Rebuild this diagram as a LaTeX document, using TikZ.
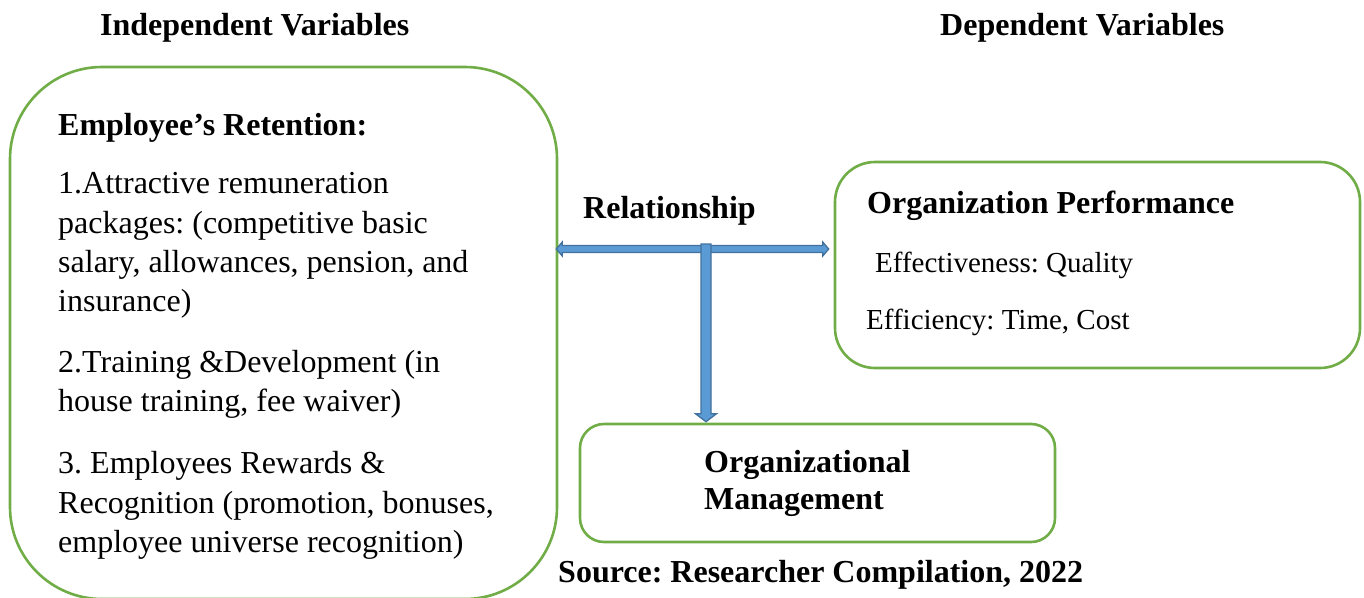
\documentclass[tikz,border=0pt]{standalone}
\usepackage{fontspec}
\setmainfont{Liberation Serif}
\usetikzlibrary{calc}
\definecolor{boxgreen}{HTML}{70AD47}
\definecolor{arrowfill}{HTML}{5B9BD5}
\definecolor{arrowedge}{HTML}{41719C}
\frenchspacing
\begin{document}
\begin{tikzpicture}[x=1pt,y=-1pt,
  greenbox/.style={draw=boxgreen,line width=2.6pt,rectangle,inner sep=0pt},
  txt/.style={anchor=base west,inner sep=0pt,font=\fontsize{32}{39}\selectfont},
  smalltxt/.style={anchor=base west,inner sep=0pt,font=\fontsize{29}{36}\selectfont},
  boldtxt/.style={txt,font=\fontsize{32}{39}\selectfont\bfseries},
  blockarrow/.style={fill=arrowfill,draw=arrowedge,line width=1.3pt,line join=miter}]
\useasboundingbox (0,0) rectangle (1364,597);
\begin{scope}
\clip (0,0) rectangle (1364,597);
% boxes
\node[greenbox,rounded corners=92pt,minimum width=547pt,minimum height=532pt] (ret) at (283.5,333) {};
\end{scope}
\node[greenbox,rounded corners=40pt,minimum width=525pt,minimum height=206pt] (perf) at (1097.5,265) {};
\node[greenbox,rounded corners=24pt,minimum width=475pt,minimum height=118pt] (mgmt) at (817.5,483) {};

% headings
\node[boldtxt] (hind) at (100,35) {Independent Variables};
\node[boldtxt] (hdep) at (940,35) {Dependent Variables};

% retention factors
\node[boldtxt] (rtitle) at (58,135) {Employee’s Retention:};
\node[txt] (a1) at (58,193) {1.Attractive remuneration};
\node[txt] (a2) at (58,233) {packages: (competitive basic};
\node[txt] (a3) at (58,272) {salary, allowances, pension, and};
\node[txt] (a4) at (58,311) {insurance)};
\node[txt] (b1) at (58,372) {2.Training \&Development (in};
\node[txt] (b2) at (58,411) {house training, fee waiver)};
\node[txt] (c1) at (58,473) {3. Employees Rewards \&};
\node[txt] (c2) at (58,513) {Recognition (promotion, bonuses,};
\node[txt] (c3) at (58,552) {employee universe recognition)};

% performance
\node[boldtxt] (ptitle) at (867,213) {Organization Performance};
\node[smalltxt] (p1) at (875,272) {Effectiveness: Quality};
\node[smalltxt] (p2) at (866,329) {Efficiency: Time, Cost};

% management
\node[boldtxt] (m1) at (704,472) {Organizational};
\node[boldtxt] (m2) at (704,509) {Management};

\node[boldtxt] (rel) at (583,218) {Relationship};
\node[boldtxt] (src) at (558,582) {Source: Researcher Compilation, 2022};

% connector end points
\coordinate (hl) at ($(ret.east |- 0,249)+(-2,0)$);
\coordinate (hr) at ($(perf.west |- 0,249)+(-5,0)$);
\coordinate (vt) at (706,244);
\coordinate (vb) at ($(mgmt.north -| vt)+(0,-1)$);

% double-headed block arrow between the variable groups
\filldraw[blockarrow] (hl) -- ++(6,-7) -- ++(0,3.5) -- ($(hr)+(-6,-3.5)$) -- ++(0,-3.5)
  -- (hr) -- ++(-6,7) -- ++(0,-3.5) -- ($(hl)+(6,3.5)$) -- ++(0,3.5) -- cycle;
% block arrow down to the management box
\filldraw[blockarrow] ($(vt)+(-5,0)$) -- ($(vt)+(5,0)$) -- ($(vb)+(5,-8)$) -- ($(vb)+(10.5,-8)$)
  -- (vb) -- ($(vb)+(-10.5,-8)$) -- ($(vb)+(-5,-8)$) -- cycle;
\end{tikzpicture}
\end{document}
